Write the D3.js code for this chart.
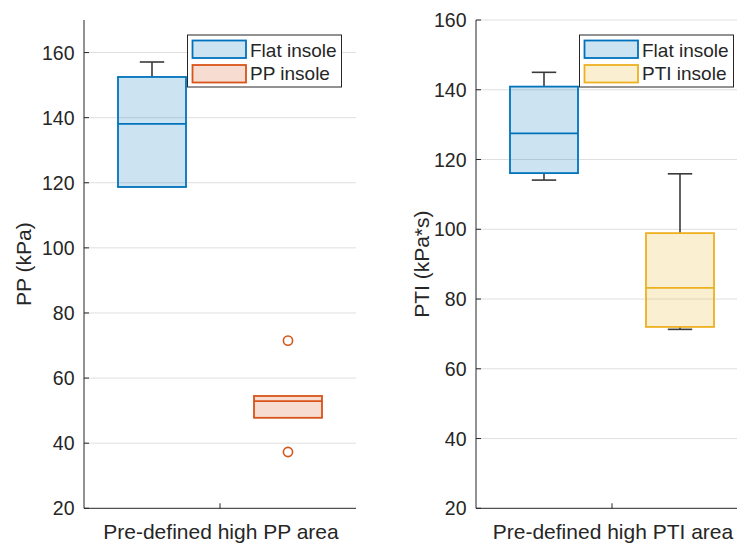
<!DOCTYPE html>
<html>
<head>
<meta charset="utf-8">
<script src="https://cdn.jsdelivr.net/npm/d3@7"></script>
<style>
  body { margin: 0; background: #fff; }
  svg { display: block; font-family: "Liberation Sans", Arial, Helvetica, sans-serif; }
</style>
</head>
<body>
<div id="chart"></div>
<script>
// 左图：PP（峰值压力）
const ppSeries   = ['Flat insole', 'PP insole'];
const ppMin      = [118.7, 47.8];
const ppQ1       = [118.7, 47.8];
const ppMedian   = [138.1, 52.9];
const ppQ3       = [152.5, 54.5];
const ppMax      = [157.1, 54.5];
const ppOutliers = [[], [71.5, 37.3]];

// 右图：PTI（压力时间积分）
const ptiSeries   = ['Flat insole', 'PTI insole'];
const ptiMin      = [114.1, 71.3];
const ptiQ1       = [116.1, 72.0];
const ptiMedian   = [127.5, 83.2];
const ptiQ3       = [140.9, 98.9];
const ptiMax      = [145.0, 115.9];
const ptiOutliers = [[], []];

const yTicks = [20, 40, 60, 80, 100, 120, 140, 160];

const TXT = '#262626';
const GRID = '#dfdfdf';
const TICK_FONT = 19.5;
const LABEL_FONT = 21;
const LEGEND_FONT = 19;

const svg = d3.select('#chart').append('svg')
    .attr('width', 737)
    .attr('height', 543);

// 画一个面板
function drawPanel(opt) {
    const { left, top, width, height, yDomain, series, colors, stats, yLabel, xLabel, legendX } = opt;

    const g = svg.append('g').attr('transform', `translate(${left},${top})`);
    const y = d3.scaleLinear().domain(yDomain).range([height, 0]);
    const x = d3.scalePoint().domain(series).range([0, width]).padding(0.5);
    const boxW = width * 0.25;

    // 网格线
    g.append('g').selectAll('line')
        .data(yTicks.filter(t => t > yDomain[0]))
        .enter().append('line')
        .attr('x1', 0).attr('x2', width)
        .attr('y1', d => y(d)).attr('y2', d => y(d))
        .attr('stroke', GRID).attr('stroke-width', 1);

    // 箱线图
    series.forEach((s, i) => {
        const cx = x(s);
        const c = colors[i];
        const bg = g.append('g');

        // 须线
        const capW = boxW * 0.36;
        [[stats.q3[i], stats.max[i]], [stats.q1[i], stats.min[i]]].forEach(([a, b]) => {
            if (Math.abs(a - b) < 1e-6) return;
            bg.append('line')
                .attr('x1', cx).attr('x2', cx)
                .attr('y1', y(a)).attr('y2', y(b))
                .attr('stroke', '#3a3a3a').attr('stroke-width', 1.6);
            bg.append('line')
                .attr('x1', cx - capW / 2).attr('x2', cx + capW / 2)
                .attr('y1', y(b)).attr('y2', y(b))
                .attr('stroke', '#3a3a3a').attr('stroke-width', 1.6);
        });

        bg.append('rect')
            .attr('x', cx - boxW / 2)
            .attr('y', y(stats.q3[i]))
            .attr('width', boxW)
            .attr('height', y(stats.q1[i]) - y(stats.q3[i]))
            .attr('fill', c).attr('fill-opacity', 0.2)
            .attr('stroke', c).attr('stroke-width', 1.8);

        bg.append('line')
            .attr('x1', cx - boxW / 2).attr('x2', cx + boxW / 2)
            .attr('y1', y(stats.median[i])).attr('y2', y(stats.median[i]))
            .attr('stroke', c).attr('stroke-width', 1.8);

        bg.selectAll('circle')
            .data(stats.outliers[i])
            .enter().append('circle')
            .attr('cx', cx).attr('cy', d => y(d))
            .attr('r', 4.6)
            .attr('fill', 'none')
            .attr('stroke', c).attr('stroke-width', 1.6);
    });

    // 坐标轴
    g.append('line')
        .attr('x1', 0).attr('x2', 0).attr('y1', 0).attr('y2', height)
        .attr('stroke', TXT).attr('stroke-width', 1);
    g.append('line')
        .attr('x1', 0).attr('x2', width).attr('y1', height).attr('y2', height)
        .attr('stroke', TXT).attr('stroke-width', 1);

    // y 刻度
    yTicks.forEach(t => {
        g.append('line')
            .attr('x1', 0).attr('x2', 5)
            .attr('y1', y(t)).attr('y2', y(t))
            .attr('stroke', TXT).attr('stroke-width', 1);
        g.append('text')
            .attr('x', -9.5).attr('y', y(t))
            .attr('dy', '0.36em')
            .attr('text-anchor', 'end')
            .attr('fill', TXT)
            .style('font-size', TICK_FONT + 'px')
            .text(t);
    });

    // x 刻度（居中一个）
    g.append('line')
        .attr('x1', width / 2).attr('x2', width / 2)
        .attr('y1', height).attr('y2', height - 5)
        .attr('stroke', TXT).attr('stroke-width', 1);
    g.append('text')
        .attr('x', width / 2 + 1).attr('y', height + 31)
        .attr('text-anchor', 'middle')
        .attr('fill', TXT)
        .style('font-size', LABEL_FONT + 'px')
        .text(xLabel);

    // y 轴标题
    g.append('text')
        .attr('transform', `translate(${opt.yLabelX},${height / 2}) rotate(-90)`)
        .attr('text-anchor', 'middle')
        .attr('fill', TXT)
        .style('font-size', LABEL_FONT + 'px')
        .text(yLabel);

    // 图例
    const lg = g.append('g').attr('transform', `translate(${legendX},${35 - top})`);
    lg.append('rect')
        .attr('x', 0).attr('y', 0)
        .attr('width', 154).attr('height', 52)
        .attr('fill', '#fff')
        .attr('stroke', TXT).attr('stroke-width', 1);
    series.forEach((s, i) => {
        lg.append('rect')
            .attr('x', 5).attr('y', 5.5 + i * 24.5)
            .attr('width', 53.5).attr('height', 17.5)
            .attr('fill', colors[i]).attr('fill-opacity', 0.2)
            .attr('stroke', colors[i]).attr('stroke-width', 1.8);
        lg.append('text')
            .attr('x', 62.5).attr('y', 21.5 + i * 23.5)
            .attr('fill', TXT)
            .style('font-size', LEGEND_FONT + 'px')
            .text(s);
    });
}

drawPanel({
    left: 84, top: 20, width: 272, height: 488.3,
    yDomain: [20, 170],
    series: ppSeries,
    colors: ['#0072BD', '#D95319'],
    stats: { min: ppMin, q1: ppQ1, median: ppMedian, q3: ppQ3, max: ppMax, outliers: ppOutliers },
    yLabel: 'PP (kPa)',
    yLabelX: -53,
    xLabel: 'Pre-defined high PP area',
    legendX: 103.5
});

drawPanel({
    left: 476, top: 20, width: 272, height: 488.3,
    yDomain: [20, 160],
    series: ptiSeries,
    colors: ['#0072BD', '#EDB120'],
    stats: { min: ptiMin, q1: ptiQ1, median: ptiMedian, q3: ptiQ3, max: ptiMax, outliers: ptiOutliers },
    yLabel: 'PTI (kPa*s)',
    yLabelX: -47,
    xLabel: 'Pre-defined high PTI area',
    legendX: 103.5
});
</script>
</body>
</html>
